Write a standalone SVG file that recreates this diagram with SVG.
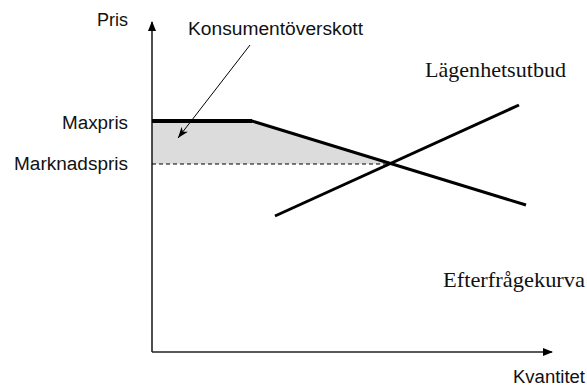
<svg xmlns="http://www.w3.org/2000/svg" width="587" height="386" viewBox="0 0 587 386">
<style>
.sans{font-family:"Liberation Sans",Arial,sans-serif;font-size:18px;fill:#111}
.serif{font-family:"Liberation Serif","Times New Roman",serif;font-size:22px;fill:#111}
.axis{stroke:#222;stroke-width:1.6;fill:none}
.curve{stroke:#000;stroke-width:3;fill:none}
</style>
<defs>
<marker id="ah" markerWidth="10" markerHeight="10" refX="9" refY="5" orient="auto" markerUnits="userSpaceOnUse">
<path d="M0,1 L10,5 L0,9 Z" fill="#000"/>
</marker>
<marker id="ps" markerWidth="12" markerHeight="10" refX="11" refY="5" orient="auto" markerUnits="userSpaceOnUse">
<path d="M0,1 L11,5 L0,9 L3,5 Z" fill="#000"/>
</marker>
</defs>
<polygon id="surplus" points="152,121 252,121 391,164 152,164" fill="#dcdcdc"/>
<g id="axes">
<line class="axis" x1="152" y1="352" x2="152" y2="22" marker-end="url(#ah)"/>
<line class="axis" x1="152" y1="352" x2="552" y2="352" marker-end="url(#ah)"/>
</g>
<g id="connectors">
<line x1="152" y1="164" x2="391" y2="164" stroke="#000" stroke-width="1" stroke-dasharray="4,3"/>
<line x1="250" y1="45" x2="178" y2="138" stroke="#000" stroke-width="1" marker-end="url(#ps)"/>
</g>
<g id="demand">
<polyline class="curve" points="152,121 252,121 526,205" stroke-linejoin="miter"/>
<line x1="152" y1="121" x2="252" y2="121" stroke="#000" stroke-width="4"/>
</g>
<g id="supply">
<line class="curve" x1="275" y1="216" x2="519" y2="105"/>
</g>
<g id="labels">
<text class="sans" x="97" y="26" textLength="31" lengthAdjust="spacingAndGlyphs">Pris</text>
<text class="sans" x="188" y="35" textLength="175" lengthAdjust="spacingAndGlyphs">Konsumentöverskott</text>
<text class="sans" x="62" y="129" textLength="66" lengthAdjust="spacingAndGlyphs">Maxpris</text>
<text class="sans" x="14" y="170" textLength="114" lengthAdjust="spacingAndGlyphs">Marknadspris</text>
<text class="sans" x="513" y="383" textLength="72" lengthAdjust="spacingAndGlyphs">Kvantitet</text>
<text class="serif" x="425" y="77" textLength="141" lengthAdjust="spacingAndGlyphs">Lägenhetsutbud</text>
<text class="serif" x="443" y="287" textLength="142" lengthAdjust="spacingAndGlyphs">Efterfrågekurva</text>
</g>
</svg>
